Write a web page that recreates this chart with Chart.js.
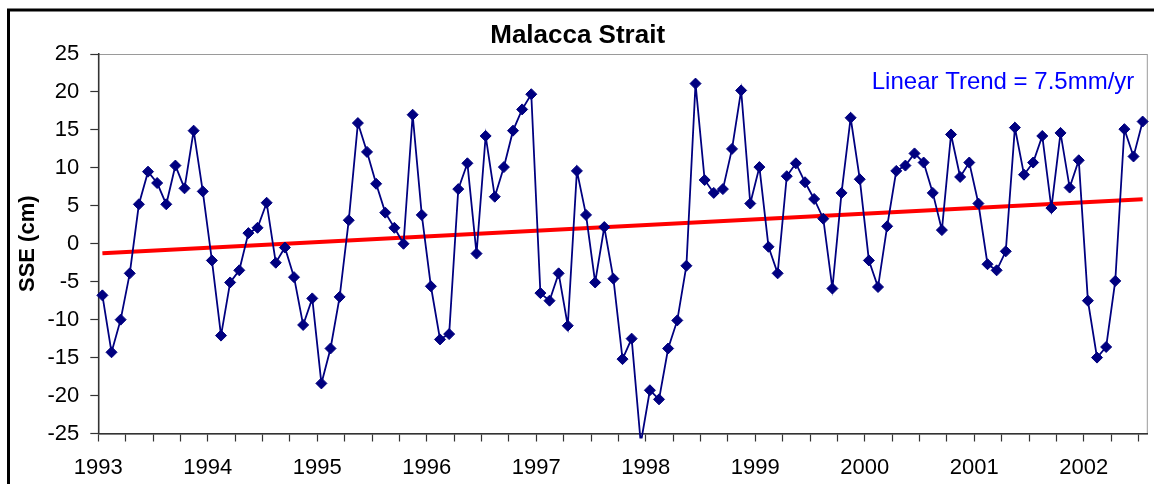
<!DOCTYPE html>
<html>
<head>
<meta charset="utf-8">
<title>Malacca Strait</title>
<script src="https://cdn.jsdelivr.net/npm/chart.js@4.4.1/dist/chart.umd.min.js"></script>
<style>
    html, body { margin: 0; padding: 0; background: #fff; }
    canvas { display: block; }
</style>
</head>
<body>
<canvas id="sseChart" width="1154" height="484"></canvas>
<script>
// monthly SSE anomaly (cm), Jan..Dec of each year
const sse1993 = [-6.8, -14.3, -10.0, -3.9, 5.2, 9.5, 8.0, 5.2, 10.3, 7.3, 14.9, 6.9];
const sse1994 = [-2.2, -12.1, -5.1, -3.5, 1.4, 2.1, 5.4, -2.5, -0.5, -4.4, -10.7, -7.2];
const sse1995 = [-18.4, -13.8, -7.0, 3.1, 15.9, 12.1, 7.9, 4.1, 2.1, 0.0, 17.0, 3.8];
const sse1996 = [-5.6, -12.6, -11.9, 7.2, 10.6, -1.3, 14.2, 6.2, 10.1, 14.9, 17.7, 19.7];
const sse1997 = [-6.5, -7.5, -3.9, -10.8, 9.6, 3.8, -5.1, 2.2, -4.6, -15.2, -12.5, -26.3];
const sse1998 = [-19.3, -20.5, -13.8, -10.1, -2.9, 21.1, 8.4, 6.7, 7.2, 12.5, 20.2, 5.3];
const sse1999 = [10.1, -0.4, -3.9, 8.9, 10.6, 8.1, 5.9, 3.3, -5.9, 6.7, 16.6, 8.5];
const sse2000 = [-2.2, -5.7, 2.3, 9.6, 10.3, 11.9, 10.7, 6.7, 1.8, 14.4, 8.8, 10.7];
const sse2001 = [5.3, -2.7, -3.5, -1.0, 15.3, 9.1, 10.7, 14.2, 4.7, 14.6, 7.4, 11.0];
const sse2002 = [-7.5, -15.0, -13.6, -4.9, 15.1, 11.5, 16.1];

const yearLabels = ['1993', '1994', '1995', '1996', '1997', '1998', '1999', '2000', '2001', '2002'];
const startYear = 1993;

// fitted linear trend
const trendRate = 0.75;    // cm per year
const trendStart = -1.25;  // cm at the first month

const fontFamily = "'Liberation Sans', Arial, sans-serif";
Chart.defaults.font.family = fontFamily;
Chart.defaults.color = '#000';

const sseValues = [].concat(sse1993, sse1994, sse1995, sse1996, sse1997,
    sse1998, sse1999, sse2000, sse2001, sse2002);

// each value sits a little into its month on the time axis
const monthToYear = i => startYear + (i + 0.45) / 12;
const ssePoints = sseValues.map((v, i) => ({ x: monthToYear(i), y: v }));

const firstX = monthToYear(0);
const lastX = monthToYear(sseValues.length - 1);
const trendPoints = [
    { x: firstX, y: trendStart },
    { x: lastX, y: trendStart + trendRate * (lastX - firstX) }
];
const trendText = `Linear Trend = ${(trendRate * 10).toFixed(1)}mm/yr`;

const framePlugin = {
    id: 'frame',
    beforeDraw(chart) {
        const { ctx, chartArea: a } = chart;
        ctx.save();
        ctx.fillStyle = '#fff';
        ctx.fillRect(0, 0, chart.width, chart.height);
        ctx.strokeStyle = '#9a9a9a';
        ctx.lineWidth = 1;
        ctx.strokeRect(a.left, a.top + 0.5, a.right - a.left, a.bottom - a.top);
        ctx.restore();
    },
    afterDraw(chart) {
        const { ctx, chartArea: a } = chart;
        ctx.save();
        // outer border of the figure
        ctx.strokeStyle = '#000';
        ctx.lineWidth = 3;
        ctx.beginPath();
        ctx.moveTo(8.5, chart.height);
        ctx.lineTo(8.5, 10);
        ctx.lineTo(chart.width, 10);
        ctx.stroke();
        // trend annotation
        ctx.font = `24px ${fontFamily}`;
        ctx.fillStyle = '#0000ff';
        ctx.textAlign = 'right';
        ctx.textBaseline = 'alphabetic';
        ctx.fillText(trendText, a.right - 13, a.top + 35);
        ctx.restore();
    }
};

new Chart(document.getElementById('sseChart'), {
    type: 'line',
    data: {
        datasets: [
            {
                label: 'SSE',
                data: ssePoints,
                borderColor: '#000080',
                borderWidth: 1.8,
                backgroundColor: '#000080',
                pointStyle: 'rectRot',
                pointRadius: 5.5,
                pointBorderWidth: 1,
                pointBackgroundColor: '#000080',
                pointBorderColor: '#000080',
                tension: 0,
                clip: { left: 6, right: 6, top: 6, bottom: 5 }
            },
            {
                label: 'Trend',
                data: trendPoints,
                borderColor: '#ff0000',
                borderWidth: 4,
                pointRadius: 0,
                tension: 0
            }
        ]
    },
    options: {
        responsive: false,
        animation: false,
        devicePixelRatio: 1,
        layout: { padding: { left: 8, right: 6.7, top: 0, bottom: 0 } },
        plugins: {
            legend: { display: false },
            tooltip: { enabled: false },
            title: {
                display: true,
                text: 'Malacca Strait',
                color: '#000',
                font: { size: 26, weight: 'bold' },
                padding: { top: 20, bottom: 2.8 }
            }
        },
        scales: {
            x: {
                type: 'linear',
                min: startYear,
                max: 2002.58,
                afterFit(scale) { scale.height = 50.5; },
                border: { display: true, color: '#333', width: 1.5 },
                grid: { drawOnChartArea: false, drawTicks: true, tickLength: 8, tickColor: '#333', tickWidth: 1.2 },
                ticks: {
                    stepSize: 0.25,
                    includeBounds: false,
                    autoSkip: false,
                    maxRotation: 0,
                    padding: 13,
                    color: '#000',
                    font: { size: 22 },
                    callback: value => Number.isInteger(value) ? yearLabels[value - startYear] : ''
                }
            },
            y: {
                min: -25,
                max: 25,
                afterFit(scale) { scale.width = 90.3; },
                border: { display: true, color: '#333', width: 1.5 },
                grid: { drawOnChartArea: false, drawTicks: true, tickLength: 8, tickColor: '#333', tickWidth: 1.2 },
                ticks: {
                    stepSize: 5,
                    padding: 11,
                    color: '#000',
                    font: { size: 22 }
                },
                title: {
                    display: true,
                    text: 'SSE (cm)',
                    color: '#000',
                    font: { size: 22, weight: 'bold' },
                    padding: { top: 7, bottom: 0 }
                }
            }
        }
    },
    plugins: [framePlugin]
});
</script>
</body>
</html>
